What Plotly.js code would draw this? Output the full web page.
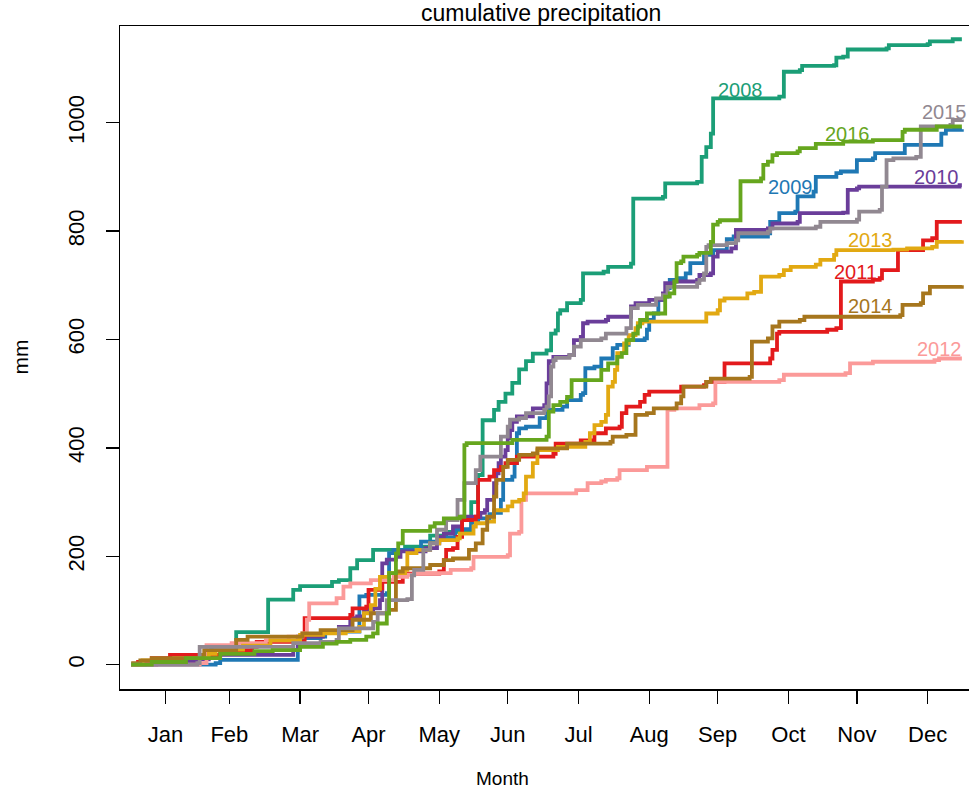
<!DOCTYPE html>
<html><head><meta charset="utf-8">
<script src="https://cdn.plot.ly/plotly-3.0.1.min.js"></script>
<style>html,body{margin:0;padding:0;overflow:hidden;background:#fff}#chart{width:980px;height:790px}</style>
</head><body><div id="chart"></div>
<script>
const monthLabels = ['Jan','Feb','Mar','Apr','May','Jun','Jul','Aug','Sep','Oct','Nov','Dec'];
const monthTickDays = [16,44,75,105,136,166,197,228,258,289,319,350];
const years = ['2008','2009','2010','2011','2012','2013','2014','2015','2016'];

const days2008 = [1,7,16,31,36,47,61,72,75,89,92,97,100,107,121,132,139,150,153,155,160,162,165,168,171,174,177,183,185,187,188,189,192,198,199,208,210,220,221,234,235,249,251,253,255,256,285,287,294,295,309,310,313,315,332,333,350,351,361,365];
const mm2008 = [0,5,10,15,30,60,120,138,145,153,156,178,193,212,218,238,245,300,350,451,470,485,500,520,545,560,574,580,611,617,648,654,667,673,722,725,734,740,860,863,888,891,937,955,980,1045,1048,1094,1097,1105,1106,1120,1122,1135,1137,1143,1145,1150,1154,1154];

const days2009 = [1,38,40,74,84,86,101,104,113,114,116,128,136,143,150,153,158,160,163,164,168,169,170,171,174,180,183,190,192,198,199,200,204,207,212,214,219,226,227,228,230,232,234,236,237,241,244,246,252,256,262,265,280,281,285,292,293,300,301,310,312,319,326,327,340,356,358,365];
const mm2009 = [0,3,9,49,52,61,126,129,132,206,212,227,235,250,262,270,278,280,304,341,347,372,427,436,439,455,470,476,488,498,501,547,550,565,584,590,599,602,618,636,648,673,679,695,710,713,722,741,756,765,785,790,796,817,833,836,864,873,900,907,910,931,934,944,959,980,987,988];

const days2010 = [1,12,30,35,72,74,85,92,97,100,103,107,110,111,113,117,119,130,135,136,138,142,146,154,156,157,160,161,162,163,165,166,167,168,170,177,182,183,184,186,193,195,198,199,201,209,210,220,222,228,234,235,239,249,250,255,256,258,264,266,280,282,293,294,313,315,319,320,364,365];
const mm2010 = [0,5,10,18,27,52,60,70,86,89,101,104,119,187,194,199,209,215,224,236,242,255,273,280,285,304,335,353,372,384,396,418,433,448,458,473,479,519,560,568,571,599,605,630,633,636,642,661,667,673,685,704,707,710,719,722,753,762,768,802,805,814,817,833,834,876,879,882,885,885];

const days2011 = [1,4,10,18,40,54,56,77,97,98,104,105,110,111,120,136,138,139,142,144,146,152,153,158,160,163,165,170,186,187,198,204,209,215,216,218,224,226,228,242,252,253,261,281,282,284,285,306,310,312,326,329,330,337,348,352,354,365];
const mm2011 = [0,5,12,18,27,33,42,86,92,104,107,138,141,153,168,172,193,212,215,236,267,273,341,347,359,365,372,384,389,408,414,427,436,439,464,476,485,498,504,513,516,522,556,565,581,611,614,618,621,707,710,713,728,765,783,787,817,817];

const days2012 = [1,31,34,45,60,70,76,78,79,91,94,97,106,116,122,125,141,150,151,166,167,171,172,174,196,201,207,209,214,215,227,236,239,250,256,257,285,287,314,316,326,353,355,365];
const mm2012 = [0,3,36,40,45,52,58,83,113,123,144,150,156,162,166,169,175,178,199,202,242,245,304,316,322,335,338,341,344,359,365,470,473,479,482,522,525,535,538,556,559,562,565,565];

const days2013 = [1,6,20,35,38,50,62,75,85,95,101,103,106,108,110,114,121,122,126,132,136,144,145,151,152,157,160,166,168,171,173,174,177,179,188,200,202,204,207,209,210,212,213,214,217,219,222,223,225,252,253,258,259,261,271,274,277,285,287,290,301,303,309,310,335,341,352,354,365];
const mm2013 = [0,8,12,20,28,35,45,55,58,62,70,95,110,140,162,169,175,206,212,224,230,233,242,255,261,264,285,292,301,304,316,347,372,396,402,411,427,442,448,461,513,522,544,575,593,608,621,630,633,633,648,654,672,676,685,688,716,719,728,734,738,747,756,765,766,768,771,780,783];

const days2014 = [1,5,10,31,33,47,52,76,84,98,106,114,117,120,132,138,142,149,152,155,157,160,161,164,166,171,177,179,192,211,212,218,222,227,230,240,242,243,253,255,272,273,280,282,285,294,296,338,339,347,348,351,365];
const mm2014 = [3,8,12,18,27,46,52,58,64,83,95,101,172,178,184,193,196,212,224,249,273,310,341,365,378,387,390,399,408,411,421,424,461,464,473,482,495,513,522,528,531,596,602,624,633,636,642,645,664,667,685,697,700];

const days2015 = [1,30,31,72,84,91,92,107,109,113,122,124,125,129,132,135,139,144,147,152,154,163,166,167,171,174,182,183,184,185,186,187,193,195,198,207,209,218,220,223,231,234,236,249,250,252,253,254,262,266,267,280,281,301,303,319,320,329,330,332,335,345,347,360,361,365];
const mm2015 = [0,3,33,40,42,46,67,79,95,119,121,165,175,212,224,249,267,304,335,359,384,421,439,452,455,464,470,476,495,550,562,566,571,587,599,602,611,621,658,664,676,682,697,704,710,722,771,774,778,783,796,799,805,808,817,821,836,839,882,931,934,937,993,996,1005,1006];

const days2016 = [1,10,25,40,55,63,75,85,91,97,104,107,109,113,114,117,118,120,132,134,138,145,147,148,168,183,184,186,189,192,194,207,210,214,216,218,221,223,224,227,235,237,239,240,242,243,249,250,255,256,258,259,268,277,278,280,282,284,293,294,301,313,326,339,340,354,365];
const mm2016 = [0,5,12,20,25,27,33,39,42,46,52,58,76,95,169,205,224,247,255,261,270,273,405,409,415,421,467,479,485,494,525,544,556,568,575,599,611,624,636,648,679,685,707,741,744,753,756,760,780,812,817,820,892,897,922,928,940,944,947,953,961,965,968,983,987,993,993];

const seriesDays = {'2008':days2008,'2009':days2009,'2010':days2010,'2011':days2011,'2012':days2012,'2013':days2013,'2014':days2014,'2015':days2015,'2016':days2016};
const seriesMM = {'2008':mm2008,'2009':mm2009,'2010':mm2010,'2011':mm2011,'2012':mm2012,'2013':mm2013,'2014':mm2014,'2015':mm2015,'2016':mm2016};
const colors = {'2008':'#1B9E77','2009':'#1F78B4','2010':'#6A3D9A','2011':'#E31A1C','2012':'#FB9A99','2013':'#E2A912','2014':'#A6761D','2015':'#918891','2016':'#66A61E'};
const labelAt = {'2008':[267.8,1060],'2009':[289.7,881],'2010':[353.7,899],'2011':[318.6,724],'2012':[355.4,582.5],'2013':[324.8,783.6],'2014':[324.8,662],'2015':[357.6,1019],'2016':[315,980]};

const FONT = 'Liberation Sans, Arial, Helvetica, sans-serif';
const traces = years.map(y => ({
  x: seriesDays[y], y: seriesMM[y], type: 'scatter', mode: 'lines',
  line: {shape: 'hv', color: colors[y], width: 3.8}, name: y, hoverinfo: 'x+y+name'
}));

const annotations = years.map(y => ({
  x: labelAt[y][0], y: labelAt[y][1], xref: 'x', yref: 'y', text: y, showarrow: false,
  font: {family: FONT, size: 20, color: colors[y]}, xanchor: 'center', yanchor: 'middle'
}));
annotations.push({xref:'paper', yref:'paper', x:(541-120)/860, y:1+(26-13)/663, text:'cumulative precipitation', showarrow:false, font:{family:FONT,size:23,color:'#000'}, xanchor:'center', yanchor:'middle'});
annotations.push({xref:'paper', yref:'paper', x:(502-120)/860, y:-(778-689)/663, text:'Month', showarrow:false, font:{family:FONT,size:19,color:'#000'}, xanchor:'center', yanchor:'middle'});
annotations.push({xref:'paper', yref:'paper', x:(20-120)/860, y:0.5, text:'mm', textangle:-90, showarrow:false, font:{family:FONT,size:21,color:'#000'}, xanchor:'center', yanchor:'middle'});

const layout = {
  width: 980, height: 790,
  margin: {l:120, r:0, t:26, b:101, pad:0},
  paper_bgcolor: '#fff', plot_bgcolor: '#fff',
  showlegend: false,
  font: {family: FONT, size: 22, color: '#000'},
  xaxis: {
    range: [-3.91, 372.95], tickmode: 'array', tickvals: monthTickDays, ticktext: monthLabels,
    ticks: 'outside', ticklen: 13, tickwidth: 1.3, tickcolor: '#000',
    showline: true, linecolor: '#000', linewidth: 1.5, mirror: true,
    showgrid: false, zeroline: false, tickfont: {family: FONT, size: 22, color: '#000'},
    ticklabelstandoff: 12
  },
  yaxis: {
    range: [-44.8, 1178.4], tickmode: 'array', tickvals: [0,200,400,600,800,1000],
    ticks: 'outside', ticklen: 13, tickwidth: 1.3, tickcolor: '#000', tickangle: -90,
    showline: true, linecolor: '#000', linewidth: 1.5, mirror: true,
    showgrid: false, zeroline: false, tickfont: {family: FONT, size: 22, color: '#000'},
    ticklabelstandoff: 13
  },
  annotations: annotations
};
Plotly.newPlot('chart', traces, layout, {displayModeBar: false, staticPlot: true});
</script></body></html>
